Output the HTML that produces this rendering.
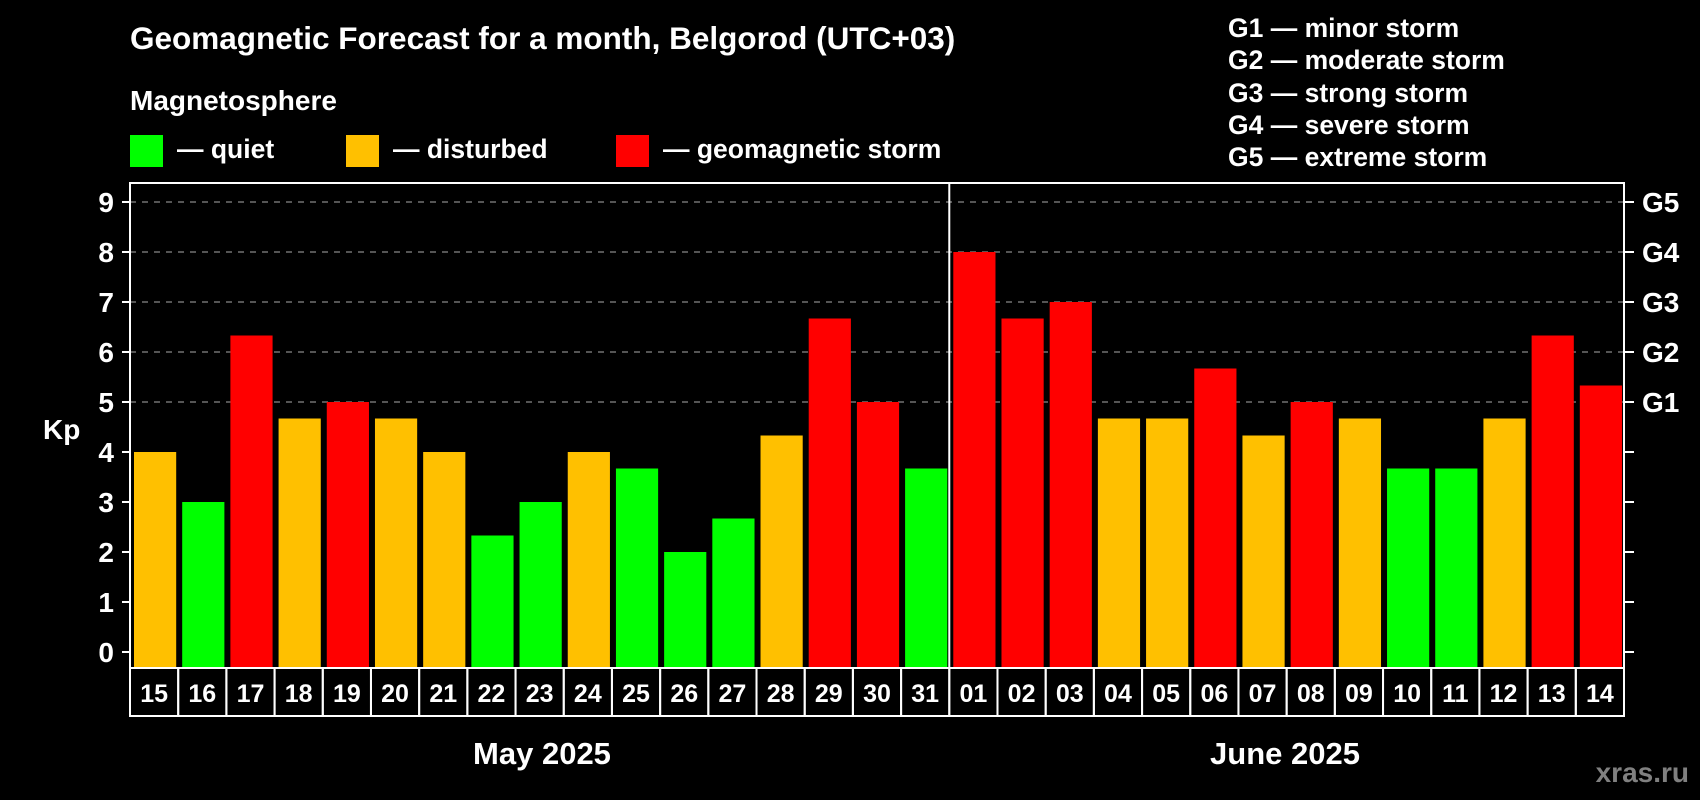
<!DOCTYPE html>
<html><head><meta charset="utf-8"><style>
html,body{margin:0;padding:0;background:#000;}
svg{display:block;font-family:"Liberation Sans",Arial,sans-serif;font-weight:bold;}
</style></head><body>
<svg id="c" width="1700" height="800" viewBox="0 0 1700 800">
<text x="130" y="49" font-size="31.5" fill="#fff">Geomagnetic Forecast for a month, Belgorod (UTC+03)</text>
<text x="130" y="110" font-size="28" fill="#fff">Magnetosphere</text>
<rect x="130" y="135" width="33" height="32" fill="#00ff00"/>
<text x="177" y="158" font-size="26.5" fill="#fff">— quiet</text>
<rect x="346" y="135" width="33" height="32" fill="#ffc000"/>
<text x="393" y="158" font-size="26.5" fill="#fff">— disturbed</text>
<rect x="616" y="135" width="33" height="32" fill="#ff0000"/>
<text x="663" y="158" font-size="26.5" fill="#fff">— geomagnetic storm</text>
<g font-size="26.5" fill="#fff">
<text x="1228" y="37">G1 — minor storm</text>
<text x="1228" y="69">G2 — moderate storm</text>
<text x="1228" y="102">G3 — strong storm</text>
<text x="1228" y="134">G4 — severe storm</text>
<text x="1228" y="166">G5 — extreme storm</text>
</g>
<text x="43" y="439" font-size="28" fill="#fff">Kp</text>
<text x="542" y="764" font-size="31" fill="#fff" text-anchor="middle">May 2025</text>
<text x="1285" y="764" font-size="31" fill="#fff" text-anchor="middle">June 2025</text>
<text x="1689" y="782" font-size="28" fill="#808080" text-anchor="end">xras.ru</text>
<g id="grid"></g><g id="bars"></g><g id="axes"></g>
</svg>
<script>
const days=["15","16","17","18","19","20","21","22","23","24","25","26","27","28","29","30","31","01","02","03","04","05","06","07","08","09","10","11","12","13","14"];
const kp=[4,3,6.33,4.67,5,4.67,4,2.33,3,4,3.67,2,2.67,4.33,6.67,5,3.67,8,6.67,7,4.67,4.67,5.67,4.33,5,4.67,3.67,3.67,4.67,6.33,5.33];
const yTicks=["0","1","2","3","4","5","6","7","8","9"];
const gLabels=["G1","G2","G3","G4","G5"];
const NS="http://www.w3.org/2000/svg";
const L=130,R=1624,T=183,B=668;
const cw=(R-L)/days.length;
const y=v=>652-50*v;
const x=i=>L+i*cw;
function mk(tag,attrs,parent){const e=document.createElementNS(NS,tag);for(const k in attrs)e.setAttribute(k,attrs[k]);document.getElementById(parent).appendChild(e);return e;}
yTicks.forEach((t,i)=>{
  const v=+t;
  if(v>=5){const g=mk('line',{x1:L,x2:R,y1:y(v),y2:y(v),stroke:'#888','stroke-width':1.3,'stroke-dasharray':'6 6'},'grid');
  
  }
  const tk=mk('line',{x1:122,x2:L,y1:y(v),y2:y(v),stroke:'#fff','stroke-width':2},'axes');
  
  
  const tr=mk('line',{x1:R,x2:1634,y1:y(v),y2:y(v),stroke:'#fff','stroke-width':2},'axes');
  
  
  const tl=mk('text',{x:114,y:y(v)+10,'font-size':28,fill:'#fff','text-anchor':'end'},'axes');
  tl.textContent=t;
  
  
});
gLabels.forEach((g,i)=>{
  const tl=mk('text',{x:1642,y:y(5+i)+10,'font-size':28,fill:'#fff'},'axes');
  tl.textContent=g;
  
  
});
kp.forEach((v,i)=>{
  const col=v>=5?'#ff0000':(v>=4?'#ffc000':'#00ff00');
  const b=mk('rect',{x:x(i)+4,y:y(v),width:cw-6,height:B-y(v),fill:col},'bars');
  
  
  const c=mk('rect',{x:x(i),y:B,width:cw,height:48,fill:'none',stroke:'#fff','stroke-width':2},'axes');
  
  
  const t=mk('text',{x:x(i)+cw/2,y:B+34,'font-size':25,fill:'#fff','text-anchor':'middle'},'axes');
  t.textContent=days[i];
  
  
});
const f=mk('rect',{x:L,y:T,width:R-L,height:B-T,fill:'none',stroke:'#fff','stroke-width':2},'axes');


const split=days.indexOf("01");
const m=mk('line',{x1:x(split),x2:x(split),y1:T,y2:B,stroke:'#fff','stroke-width':2},'axes');


</script>
</body></html>
